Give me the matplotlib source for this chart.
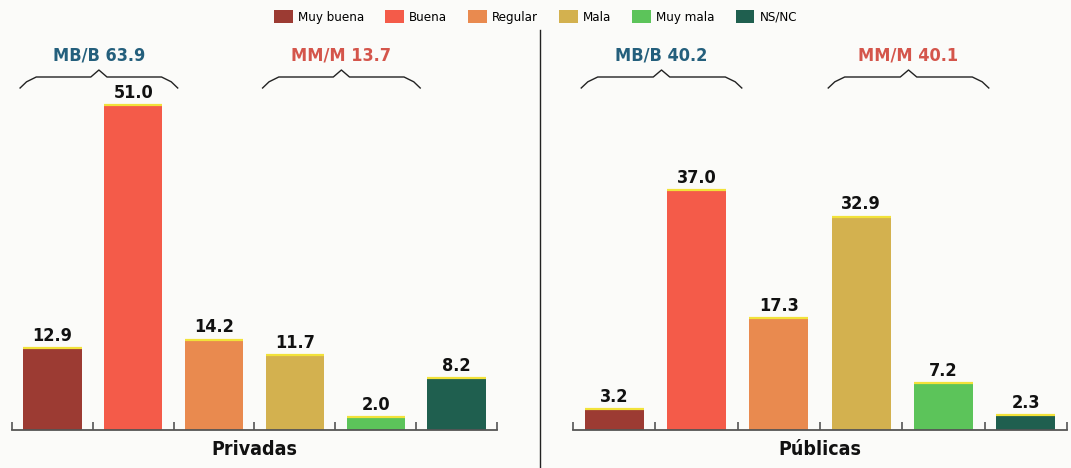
import matplotlib
matplotlib.use("Agg")
import matplotlib.pyplot as plt
from matplotlib.patches import Patch
from matplotlib.lines import Line2D
from matplotlib.transforms import blended_transform_factory
from matplotlib import font_manager
import numpy as np

categories = ["Muy buena", "Buena", "Regular", "Mala", "Muy mala", "NS/NC"]
privadas = [12.9, 51.0, 14.2, 11.7, 2.0, 8.2]
publicas = [3.2, 37.0, 17.3, 32.9, 7.2, 2.3]
panel_titles = ["Privadas", "Públicas"]
group_labels_priv = ["MB/B 63.9", "MM/M 13.7"]
group_labels_pub = ["MB/B 40.2", "MM/M 40.1"]
group_members = [[0, 1], [3, 4]]

colors = ["#9c3b33", "#f45b49", "#e98a4f", "#d3b14f", "#5cc45a", "#1f5f4f"]
group_colors = ["#245f7c", "#d4554b"]
FONT = ["DejaVu Sans"]
STRETCH = "condensed"

fig = plt.figure(figsize=(10.71, 4.68), dpi=100)
fig.patch.set_facecolor("#fbfbf9")

axes_rects = [[12/1071, 38/468, 485/1071, 400/468],
              [573/1071, 38/468, 494/1071, 400/468]]
ylims = [62.8, 61.7]
datasets = [privadas, publicas]
glabels = [group_labels_priv, group_labels_pub]

def draw_brace(ax, x0, x1, xm, y_flat, y_end, y_peak, tr):
    xs = [x0, x0 + 0.08, x0 + 0.2, xm - 0.1, xm, xm + 0.1, x1 - 0.2, x1 - 0.08, x1]
    ys = [y_end, y_flat - 0.012, y_flat, y_flat, y_peak, y_flat, y_flat, y_flat - 0.012, y_end]
    ax.plot(xs, ys, color="#222222", lw=1.0, transform=tr, clip_on=False)

for i, ax in enumerate([fig.add_axes(r) for r in axes_rects]):
    vals = datasets[i]
    x = np.arange(len(categories))
    w = 0.72
    ax.bar(x, vals, width=w, color=colors, edgecolor="none", zorder=2)
    ax.hlines(vals, x - w/2, x + w/2, color="#f2e23a", lw=1.6, zorder=3)
    for xi, v in zip(x, vals):
        ax.text(xi, v + 0.5, f"{v:.1f}", ha="center", va="bottom",
                fontsize=13, fontweight="bold", family=FONT, fontstretch=STRETCH,
                color="#111111")
    ax.set_xlim(-0.5, len(categories) - 0.5)
    ax.set_ylim(0, ylims[i])
    ax.set_facecolor("none")
    for s in ["top", "right", "left"]:
        ax.spines[s].set_visible(False)
    ax.spines["bottom"].set_color("#555555")
    ax.spines["bottom"].set_linewidth(1.3)
    ax.set_yticks([])
    ax.set_xticks(np.arange(-0.5, len(categories), 1.0))
    ax.set_xticklabels([])
    ax.tick_params(axis="x", direction="in", length=6, width=1.2, color="#555555")
    ax.set_xlabel(panel_titles[i], fontsize=14, fontweight="bold", family=FONT,
                  fontstretch=STRETCH, color="#111111", labelpad=4)
    tr = blended_transform_factory(ax.transData, ax.transAxes)
    for g, members in enumerate(group_members):
        x0 = members[0] - 0.4
        x1 = members[-1] + 0.55
        xm = (x0 + x1) / 2
        draw_brace(ax, x0, x1, xm, 0.8825, 0.855, 0.90, tr)
        ax.text(xm, 0.9375, glabels[i][g], transform=tr, ha="center", va="center",
                fontsize=13, fontweight="bold", family=FONT, fontstretch=STRETCH,
                color=group_colors[g])

# separator
fig.add_artist(Line2D([540/1071, 540/1071], [0, 1 - 30/468], color="#222222", lw=1.0))

handles = [Patch(facecolor=c, edgecolor="none") for c in colors]
leg = fig.legend(handles, categories, loc="upper center", bbox_to_anchor=(0.5, 1.005),
                 ncol=6, frameon=False, handlelength=1.4, handleheight=1.2,
                 handletextpad=0.4, columnspacing=1.6,
                 prop=font_manager.FontProperties(family=FONT, size=9.5, stretch=STRETCH))

fig.savefig("out.png", dpi=100, facecolor=fig.get_facecolor())
